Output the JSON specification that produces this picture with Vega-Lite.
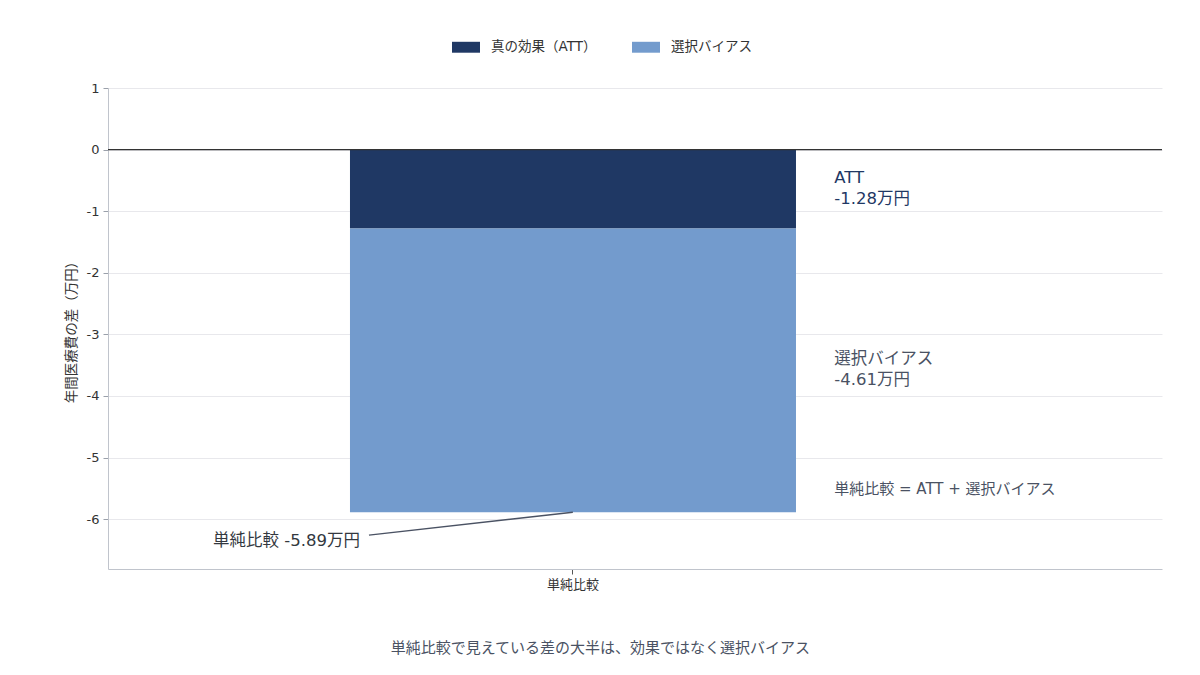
{
  "$schema": "https://vega.github.io/schema/vega-lite/v6.json",
  "width": 1054,
  "height": 481,
  "padding": {"left": 64, "top": 33, "right": 39, "bottom": 10},
  "background": "white",
  "config": {
    "view": {"stroke": null},
    "font": "DejaVu Sans, Noto Sans CJK JP, sans-serif"
  },
  "title": {
    "text": "単純比較で見えている差の大半は、効果ではなく選択バイアス",
    "orient": "bottom",
    "anchor": "middle",
    "frame": "bounds",
    "fontSize": 15,
    "fontWeight": "normal",
    "color": "#4a5263",
    "offset": 50,
    "dx": -13
  },
  "datasets": {
    "bars": [
      {"group": "単純比較", "component": "真の効果（ATT）", "value": -1.28, "ord": 1},
      {"group": "単純比較", "component": "選択バイアス", "value": -4.61, "ord": 2}
    ],
    "notes": [
      {"pos": 0.689, "val": -0.455, "text": "ATT", "kind": "att"},
      {"pos": 0.689, "val": -0.795, "text": "-1.28万円", "kind": "att"},
      {"pos": 0.689, "val": -3.4, "text": "選択バイアス", "kind": "bias"},
      {"pos": 0.689, "val": -3.74, "text": "-4.61万円", "kind": "bias"},
      {"pos": 0.689, "val": -5.51, "text": "単純比較 = ATT + 選択バイアス", "kind": "formula"},
      {"pos": 0.0996, "val": -6.36, "text": "単純比較 -5.89万円", "kind": "total"}
    ],
    "leader": [
      {"pos": 0.2476, "val": -6.26},
      {"pos": 0.441, "val": -5.89}
    ]
  },
  "layer": [
    {
      "data": {"name": "bars"},
      "mark": {"type": "bar"},
      "encoding": {
        "x": {
          "field": "group",
          "type": "nominal",
          "scale": {"paddingInner": 0, "paddingOuter": 0.6816, "align": 0.398},
          "axis": {
            "title": null,
            "labelAngle": 0,
            "labelFontSize": 13,
            "labelColor": "#333333",
            "domainColor": "#c0c4cc",
            "tickColor": "#555555",
            "tickSize": 5,
            "labelPadding": 4
          }
        },
        "y": {
          "field": "value",
          "type": "quantitative",
          "stack": "zero",
          "scale": {"domain": [-6.81, 1], "nice": false, "zero": false},
          "axis": {
            "title": "年間医療費の差（万円）",
            "titleFontSize": 13.5,
            "titleFontWeight": "normal",
            "titleColor": "#333333",
            "titlePadding": 8,
            "values": [-6, -5, -4, -3, -2, -1, 0, 1],
            "labelExpr": "'' + datum.value",
            "labelFontSize": 13,
            "labelColor": "#333333",
            "gridColor": "#e8e8ec",
            "domainColor": "#c0c4cc",
            "tickColor": "#9aa0aa",
            "tickSize": 5,
            "labelPadding": 4
          }
        },
        "color": {
          "field": "component",
          "type": "nominal",
          "scale": {
            "domain": ["真の効果（ATT）", "選択バイアス"],
            "range": ["#1f3864", "#739bcd"]
          },
          "legend": {
            "title": null,
            "orient": "none",
            "direction": "horizontal",
            "legendX": 344,
            "legendY": -55,
            "symbolType": "M-1,-0.39h2v0.78h-2z",
            "symbolSize": 784,
            "symbolStrokeWidth": 0,
            "labelFontSize": 13.5,
            "labelColor": "#333333",
            "labelOffset": 11,
            "columnPadding": 35
          }
        },
        "order": {"field": "ord", "type": "quantitative"}
      }
    },
    {
      "data": {"values": [{"val": 0}]},
      "mark": {"type": "rule", "color": "#333333", "strokeWidth": 1.2},
      "encoding": {
        "y": {"field": "val", "type": "quantitative"}
      }
    },
    {
      "data": {"name": "leader"},
      "mark": {"type": "line", "color": "#4a5263", "strokeWidth": 1.5},
      "encoding": {
        "x": {"field": "pos", "type": "quantitative", "scale": {"domain": [0, 1], "nice": false}, "axis": null},
        "y": {"field": "val", "type": "quantitative"}
      }
    },
    {
      "data": {"name": "notes"},
      "transform": [{"filter": "datum.kind == 'att'"}],
      "mark": {"type": "text", "align": "left", "baseline": "middle", "fontSize": 16.5, "color": "#1f3864"},
      "encoding": {
        "x": {"field": "pos", "type": "quantitative", "scale": {"domain": [0, 1], "nice": false}, "axis": null},
        "y": {"field": "val", "type": "quantitative"},
        "text": {"field": "text"}
      }
    },
    {
      "data": {"name": "notes"},
      "transform": [{"filter": "datum.kind == 'bias'"}],
      "mark": {"type": "text", "align": "left", "baseline": "middle", "fontSize": 16.5, "color": "#4a5263"},
      "encoding": {
        "x": {"field": "pos", "type": "quantitative", "scale": {"domain": [0, 1], "nice": false}, "axis": null},
        "y": {"field": "val", "type": "quantitative"},
        "text": {"field": "text"}
      }
    },
    {
      "data": {"name": "notes"},
      "transform": [{"filter": "datum.kind == 'formula'"}],
      "mark": {"type": "text", "align": "left", "baseline": "middle", "fontSize": 15, "color": "#4a5263"},
      "encoding": {
        "x": {"field": "pos", "type": "quantitative", "scale": {"domain": [0, 1], "nice": false}, "axis": null},
        "y": {"field": "val", "type": "quantitative"},
        "text": {"field": "text"}
      }
    },
    {
      "data": {"name": "notes"},
      "transform": [{"filter": "datum.kind == 'total'"}],
      "mark": {"type": "text", "align": "left", "baseline": "middle", "fontSize": 16.5, "color": "#333840"},
      "encoding": {
        "x": {"field": "pos", "type": "quantitative", "scale": {"domain": [0, 1], "nice": false}, "axis": null},
        "y": {"field": "val", "type": "quantitative"},
        "text": {"field": "text"}
      }
    }
  ],
  "resolve": {"scale": {"x": "independent"}}
}
